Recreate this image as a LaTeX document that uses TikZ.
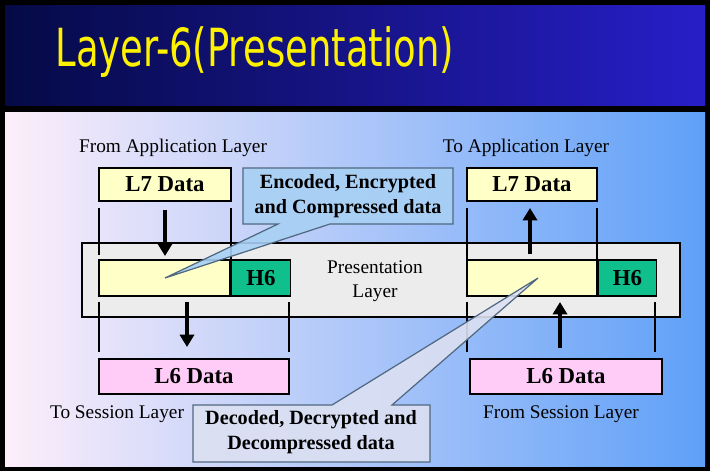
\documentclass[tikz,border=0pt]{standalone}
\usepackage{fontspec}
\setmainfont{Liberation Serif}
\newfontfamily\titlefont{DejaVu Sans Condensed}
\usetikzlibrary{arrows.meta}
\definecolor{yel}{HTML}{FFFFC8}
\definecolor{grn}{HTML}{10C08C}
\definecolor{pnk}{HTML}{FFCCF8}
\definecolor{band}{HTML}{ECECEC}
\definecolor{cal1}{HTML}{A8D0F4}
\definecolor{cal2}{HTML}{DCE0F2}
\definecolor{calb}{HTML}{506880}
\tikzset{
  lbl/.style={font=\fontsize{11}{13}\selectfont},
  boxy/.style={draw=black,line width=0.8pt,font=\bfseries\fontsize{13}{15}\selectfont,inner sep=0pt},
  vl/.style={line width=0.7pt},
  bigarrow/.style={-{Triangle[length=7pt,width=8pt]},line width=2.2pt},
  callout/.style={draw=calb,line width=0.7pt,line join=miter},
  ctext/.style={font=\bfseries\fontsize{11.5}{14}\selectfont,align=center}
}
\begin{document}
\begin{tikzpicture}[x=0.02cm,y=-0.02cm]
\useasboundingbox (0,0) rectangle (710,471);
\fill[black] (0,0) rectangle (710,471);
\shade[left color={rgb,255:red,5;green,10;blue,70},right color={rgb,255:red,40;green,30;blue,200}] (5,5) rectangle (705,105);
\node[anchor=west,text=yellow,font=\titlefont\fontsize{26}{30}\selectfont,xscale=0.9,yscale=1.15] (title) at (50,52) {Layer-6(Presentation)};
\shade[left color={rgb,255:red,253;green,238;blue,250},right color={rgb,255:red,95;green,160;blue,248}] (5,112) rectangle (705,466);
% labels
\node[lbl] (fa) at (173,148) {From Application Layer};
\node[lbl] (ta) at (526,148) {To Application Layer};
\node[lbl] (ts) at (117,414) {To Session Layer};
\node[lbl] (fs) at (561,414) {From Session Layer};
% presentation band
\draw[fill=band,line width=0.8pt] (82,243) rectangle (680,317);
\node[lbl,align=center,font=\fontsize{11}{14}\selectfont] (pl) at (375,281) {Presentation\\Layer};
% top boxes
\node[boxy,fill=yel,minimum width=132*0.02cm,minimum height=33*0.02cm] (l7a) at (165,184.5) {L7 Data};
\node[boxy,fill=yel,minimum width=130*0.02cm,minimum height=33*0.02cm] (l7b) at (532,184.5) {L7 Data};
% middle boxes
\node[boxy,fill=yel,minimum width=131*0.02cm,minimum height=36*0.02cm] (ya) at (164.5,278) {};
\node[boxy,fill=grn,minimum width=59*0.02cm,minimum height=36*0.02cm,anchor=west] (ha) at (ya.east) {H6};
\node[boxy,fill=yel,minimum width=130*0.02cm,minimum height=36*0.02cm] (yb) at (532,278) {};
\node[boxy,fill=grn,minimum width=58*0.02cm,minimum height=36*0.02cm,anchor=west] (hb) at (yb.east) {H6};
% bottom boxes
\node[boxy,fill=pnk,minimum width=190*0.02cm,minimum height=35*0.02cm] (l6a) at (194,376.5) {L6 Data};
\node[boxy,fill=pnk,minimum width=192*0.02cm,minimum height=35*0.02cm] (l6b) at (566,376.5) {L6 Data};
% vertical lines
\draw[vl] (99,208) -- (99,255) (231,208) -- (231,260) (99,302) -- (99,352) (289,302) -- (289,352);
\draw[vl] (467,208) -- (467,260) (597,208) -- (597,260) (467,302) -- (467,352) (655,302) -- (655,352);
% arrows
\coordinate (a1s) at (165,210); \coordinate (a1e) at (165,256);
\coordinate (a2s) at (187,302); \coordinate (a2e) at (187,347);
\coordinate (a3s) at (530,254); \coordinate (a3e) at (530,208);
\coordinate (a4s) at (560,348); \coordinate (a4e) at (560,302);
\draw[bigarrow] (a1s) -- (a1e);
\draw[bigarrow] (a2s) -- (a2e);
\draw[bigarrow] (a3s) -- (a3e);
\draw[bigarrow] (a4s) -- (a4e);
% callouts
\coordinate (p1) at (165,278);
\draw[callout,fill=cal1,fill opacity=0.9] (243,168) -- (453,168) -- (453,224) -- (330,224) -- (p1) -- (278,224) -- (243,224) -- cycle;
\node[ctext] (c1) at (348,196) {Encoded, Encrypted\\and Compressed data};
\coordinate (p2) at (538,278);
\draw[callout,fill=cal2,fill opacity=0.9] (193,405) -- (332,405) -- (p2) -- (392,405) -- (430,405) -- (430,462) -- (193,462) -- cycle;
\node[ctext] (c2) at (311,432) {Decoded, Decrypted and\\Decompressed data};
\end{tikzpicture}
\end{document}
